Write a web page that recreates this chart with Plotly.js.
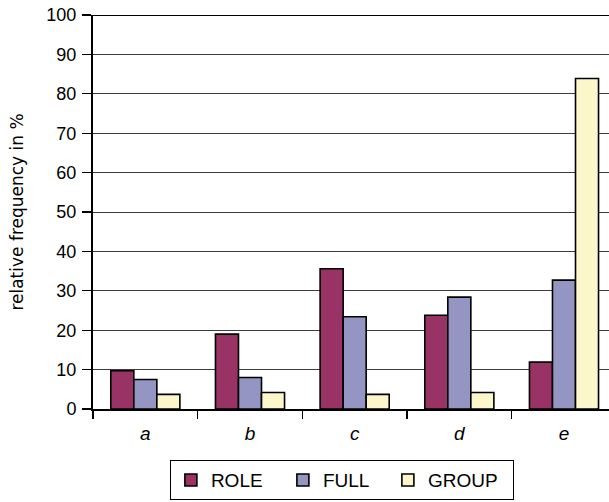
<!DOCTYPE html>
<html>
<head>
<meta charset="utf-8">
<script src="https://cdn.plot.ly/plotly-3.0.1.min.js"></script>
<style>
  html, body { margin: 0; padding: 0; background: #fff; }
  #chart { width: 609px; height: 502px; }
</style>
</head>
<body>
<div id="chart"></div>
<script>
// Categories and relative frequencies (%) per condition
const categories = ['a', 'b', 'c', 'd', 'e'];
const roleValues  = [9.7, 19.0, 35.6, 23.8, 11.9];
const fullValues  = [7.5, 8.0, 23.4, 28.4, 32.7];
const groupValues = [3.7, 4.2, 3.7, 4.2, 83.9];
const yTickValues = [0, 10, 20, 30, 40, 50, 60, 70, 80, 90, 100];

const barLine = { color: '#000000', width: 1.6 };

const traces = [
  { name: 'ROLE',  y: roleValues,  color: '#993366', lw: 67 },
  { name: 'FULL',  y: fullValues,  color: '#9595c3', lw: 60 },
  { name: 'GROUP', y: groupValues, color: '#fbf7cb', lw: 80 }
].map(s => ({
  type: 'bar',
  name: s.name,
  x: categories,
  y: s.y,
  legendwidth: s.lw,
  marker: { color: s.color, line: barLine },
  hoverinfo: 'x+y+name'
}));

const layout = {
  width: 609,
  height: 502,
  margin: { l: 93, r: 0, t: 15, b: 93, pad: 0 },
  paper_bgcolor: '#ffffff',
  plot_bgcolor: '#ffffff',
  font: { family: '"Liberation Sans", Arial, sans-serif', color: '#000000', size: 18 },
  barmode: 'group',
  bargap: 0.34,
  bargroupgap: 0,
  showlegend: true,
  legend: {
    orientation: 'h',
    x: 0.149, xanchor: 'left',
    y: -0.13, yanchor: 'top',
    bordercolor: '#000000',
    borderwidth: 1,
    bgcolor: '#ffffff',
    font: { size: 19, color: '#000000' },
    traceorder: 'normal'
  },
  xaxis: {
    type: 'category',
    range: [-0.5, 4.43],
    showline: true,
    linecolor: '#000000',
    linewidth: 2,
    ticks: 'outside',
    tickson: 'boundaries',
    ticklen: 8,
    tickwidth: 1.2,
    tickcolor: '#000000',
    tickfont: { size: 19, style: 'italic' },
    ticklabelstandoff: 6,
    showgrid: false,
    zeroline: false,
    fixedrange: true
  },
  yaxis: {
    range: [0, 100],
    tickvals: yTickValues,
    ticktext: yTickValues.map(String),
    showline: true,
    linecolor: '#000000',
    linewidth: 2,
    ticks: 'outside',
    ticklen: 9,
    tickwidth: 1.2,
    tickcolor: '#000000',
    tickfont: { size: 18 },
    ticklabelstandoff: 2,
    showgrid: true,
    gridcolor: '#3c3c3c',
    gridwidth: 1,
    zeroline: false,
    fixedrange: true,
    title: {
      text: 'relative frequency in %',
      font: { family: '"DejaVu Sans", sans-serif', size: 17, color: '#000000' },
      standoff: 18
    }
  },
  shapes: [
    // top border of the plotting area
    { type: 'line', xref: 'paper', yref: 'y', x0: 0, x1: 1, y0: 100, y1: 100,
      line: { color: '#000000', width: 2 } }
  ]
};

Plotly.newPlot('chart', traces, layout, { displayModeBar: false, staticPlot: true });
</script>
</body>
</html>
